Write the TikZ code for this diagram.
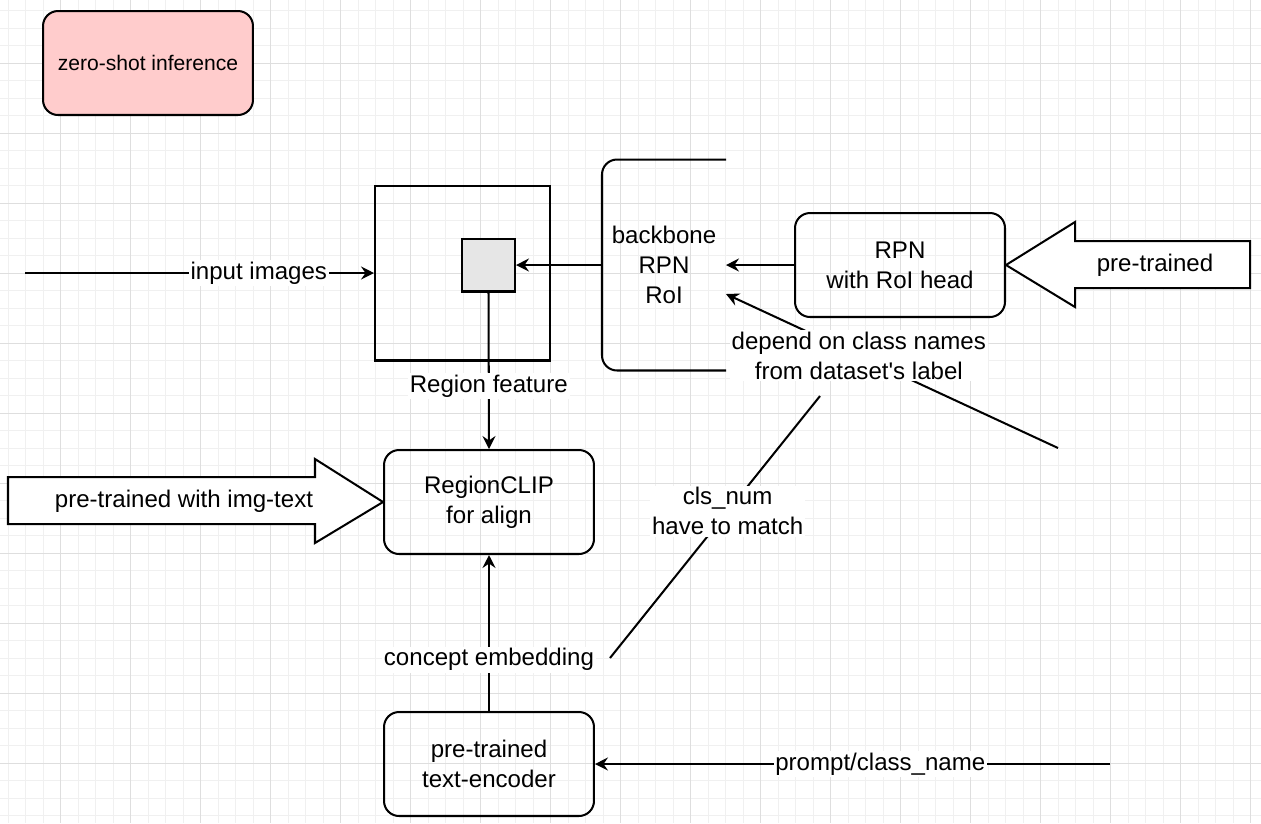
\documentclass[tikz,border=0pt]{standalone}
\usepackage{fontspec}
\setmainfont{Liberation Sans}
\usetikzlibrary{arrows.meta,calc}
\definecolor{zsfill}{HTML}{FFCCCC}
\definecolor{roifill}{HTML}{E6E6E6}

\begin{document}
\begin{tikzpicture}[x=0.02cm, y=-0.02cm,
		line width=1.15pt,
		>={Stealth[length=2.6mm,width=2.6mm,inset=0.9mm]},
		every node/.style={font=\fontsize{13.7}{17}\selectfont, align=center},
		roundbox/.style={draw, rounded corners=0.3cm, minimum width=4.2cm, minimum height=2.08cm},
		lbl/.style={fill=white, inner sep=1pt},
		gridminor/.style={line width=0.4pt, draw=black!6},
		gridmajor/.style={line width=0.4pt, draw=black!13}
		]
		
		\useasboundingbox (0,0) rectangle (1261,823);
		\fill[white] (0,0) rectangle (1261,823);
		% background grid
		\foreach \gx in {8.2,25.7,...,1261} \draw[gridminor] (\gx,0) -- (\gx,823);
		\foreach \gy in {10.8,28.3,...,823} \draw[gridminor] (0,\gy) -- (1261,\gy);
		\foreach \gx in {60.7,130.7,...,1261} \draw[gridmajor] (\gx,0) -- (\gx,823);
		\foreach \gy in {63.3,133.3,...,823} \draw[gridmajor] (0,\gy) -- (1261,\gy);
		
		\node[roundbox, fill=zsfill, font=\fontsize{12}{14}\selectfont](zs) at (148,63){zero-shot inference};
		
		\node[draw, minimum width=3.5cm, minimum height=3.5cm](img) at (462.5,273){};
		\node[draw, fill=roifill, minimum size=1.06cm](roi) at (488.5,265){};
		
		\node[inner sep=0pt, minimum width=2.44cm, minimum height=4.18cm](stack) at (664,265){backbone\\RPN\\RoI};
		\draw[rounded corners=0.3cm] (stack.north east) -- (stack.north west)
		-- (stack.south west) -- (stack.south east);
		
		\node[roundbox](rpn) at (900,265){RPN\\with RoI head};
		\node[roundbox](clip) at (489,502){RegionCLIP\\for align};
		\node[roundbox](enc) at (489,764){pre-trained\\text-encoder};
		
		% hollow arrows
		\draw[fill=white] (rpn.east) -- (1075,222) -- (1075,241) -- (1250,241)
		-- (1250,288) -- (1075,288) -- (1075,307) -- cycle;
		\node(pt1) at (1155,265){pre-trained};
		\draw[fill=white] (clip.west) -- (315,543) -- (315,524) -- (8,524)
		-- (8,477) -- (315,477) -- (315,459) -- cycle;
		\node(pt2) at (184,501){pre-trained with img-text};
		
		\coordinate (inpt) at (25,273);
		\coordinate (dsrc) at (1058,448);
		\coordinate (cls1) at (820,396);
		\coordinate (cls2) at (610,658);
		\coordinate (prm) at (1110,764);
		
		\draw[->] (inpt) -- node[lbl, pos=0.67]{input images} (img.west);
		\draw[->] (stack.west) -- (roi.east);
		\draw[->] (rpn.west) -- (stack.east |- rpn.west);
		\draw[->] (dsrc) -- node[lbl, pos=0.6](dep){depend on class names\\from dataset\textquotesingle s label}
		($(stack.east)+(0,29)$);
		\draw (cls1) -- node[lbl, pos=0.44](cls){cls\_num\\have to match} (cls2);
		\draw[->] (roi.south) -- node[lbl, pos=0.6]{Region feature} (clip.north);
		\draw[->] (enc.north) -- node[lbl, pos=0.33]{concept embedding} (clip.south);
		\draw[->] (prm) -- node[lbl, pos=0.446]{prompt/class\_name} (enc.east);
	\end{tikzpicture}
\end{document}
